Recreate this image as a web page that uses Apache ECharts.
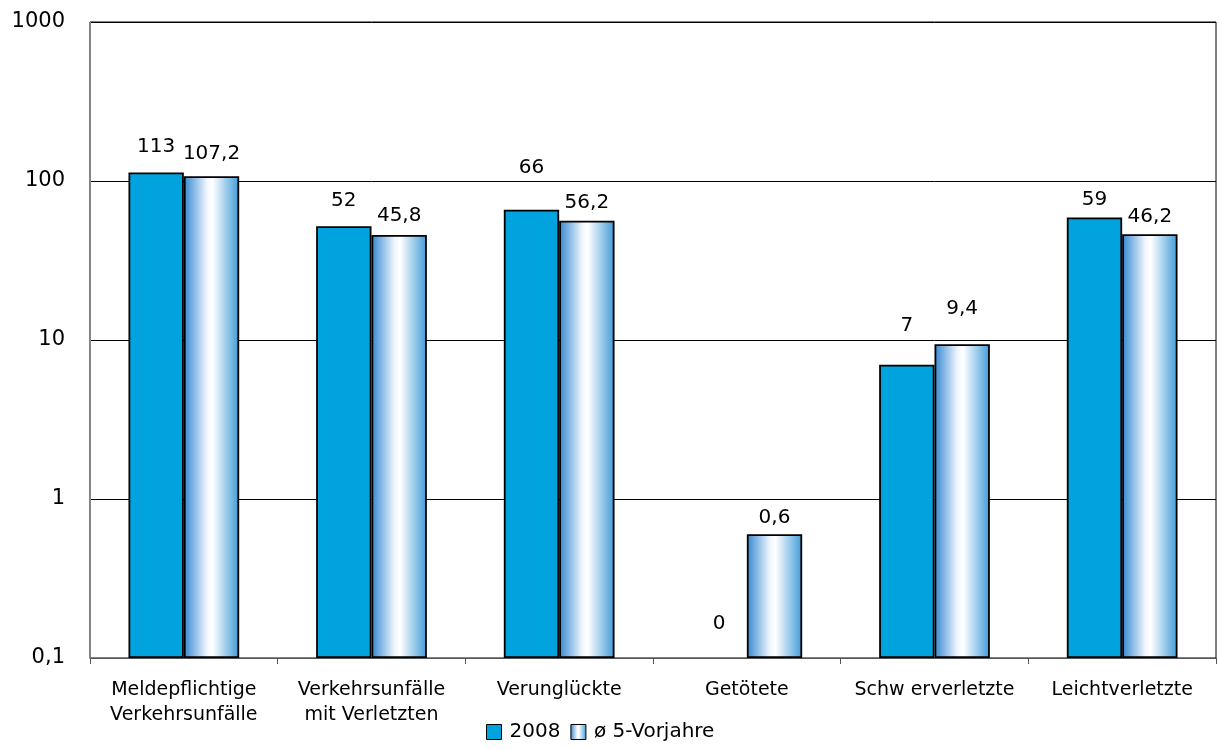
<!DOCTYPE html>
<html><head><meta charset="utf-8">
<script src="https://cdn.jsdelivr.net/npm/echarts@6/dist/echarts.min.js"></script>
<style>html,body{margin:0;padding:0;background:#fff}#c{width:1220px;height:749px}</style>
</head><body><div id="c"></div>
<script>
const categories = ['Meldepflichtige\nVerkehrsunfälle', 'Verkehrsunfälle\nmit Verletzten', 'Verunglückte', 'Getötete', 'Schw erverletzte', 'Leichtverletzte'];
const seriesNames = ['2008', 'ø 5-Vorjahre'];
const values2008 = [113, 52, 66, 0, 7, 59];
const valuesAvg = [107.2, 45.8, 56.2, 0.6, 9.4, 46.2];
const yTickLabels = ['0,1', '1', '10', '100', '1000'];

// label layout tweaks (pixels), separate from data
const labelDist2008 = [16, 15, 32, 24, 29, 8];
const labelDistAvg = [12, 9, 8, 6, 25, 8];

const fmt = v => String(v).replace('.', ',');
const AXIS_MIN = 0.1;
const FONT = 'DejaVu Sans';

function build(vals, dists) {
  return vals.map((v, i) => {
    if (v <= 0) {
      return { value: AXIS_MIN, itemStyle: { color: 'rgba(0,0,0,0)', borderWidth: 0 },
               label: { show: true, formatter: fmt(v), position: 'top', distance: dists[i] } };
    }
    return { value: v, label: { distance: dists[i] } };
  });
}

const gradient = new echarts.graphic.LinearGradient(0, 0, 1, 0, [
  { offset: 0, color: '#3487d1' },
  { offset: 0.42, color: '#f2f7fe' },
  { offset: 0.52, color: '#ffffff' },
  { offset: 1, color: '#3f9bd9' }
]);

const labelStyle = { show: true, position: 'top', fontFamily: FONT, fontSize: 20, color: '#000', formatter: p => fmt(p.value) };

const chart = echarts.init(document.getElementById('c'), null, { renderer: 'canvas' });
chart.setOption({
  animation: false,
  backgroundColor: '#fff',
  grid: { left: 90, right: 4, top: 22, bottom: 91, show: true, borderColor: '#000', borderWidth: 1 },
  legend: {
    bottom: 2, left: 481,
    itemWidth: 15, itemHeight: 15, itemGap: 10,
    textStyle: { fontFamily: FONT, fontSize: 20, color: '#000', padding: [0, 0, 0, 3] },
    data: [
      { name: seriesNames[0], icon: 'rect', itemStyle: { color: '#00a3dd', borderColor: '#000', borderWidth: 1 } },
      { name: seriesNames[1], icon: 'rect', itemStyle: { color: gradient, borderColor: '#000', borderWidth: 1 } }
    ]
  },
  xAxis: {
    type: 'category', data: categories,
    axisLine: { lineStyle: { color: '#555', width: 1 } },
    axisTick: { show: true, alignWithLabel: false, length: 6, lineStyle: { color: '#555' } },
    axisLabel: { fontFamily: FONT, fontSize: 19, color: '#000', margin: 20, lineHeight: 25, interval: 0 }
  },
  yAxis: {
    type: 'log', logBase: 10, min: 0.1, max: 1000, startValue: 0.1,
    axisLine: { show: true, lineStyle: { color: '#888' } },
    axisTick: { show: false },
    splitLine: { show: true, lineStyle: { color: '#000', width: 1 } },
    axisLabel: { fontFamily: FONT, fontSize: 21, color: '#000', margin: 25,
      formatter: v => { const i = Math.round(Math.log10(v)) + 1; return yTickLabels[i] !== undefined ? yTickLabels[i] : fmt(v); } }
  },
  series: [
    {
      name: seriesNames[0], type: 'bar', barGap: '0%', barCategoryGap: '41%',
      itemStyle: { color: '#00a3dd', borderColor: '#000', borderWidth: 1.8 },
      label: labelStyle,
      data: build(values2008, labelDist2008)
    },
    {
      name: seriesNames[1], type: 'bar', barGap: '0%', barCategoryGap: '41%',
      itemStyle: { color: gradient, borderColor: '#000', borderWidth: 1.8 },
      label: labelStyle,
      data: build(valuesAvg, labelDistAvg)
    }
  ]
});
</script>
</body></html>
